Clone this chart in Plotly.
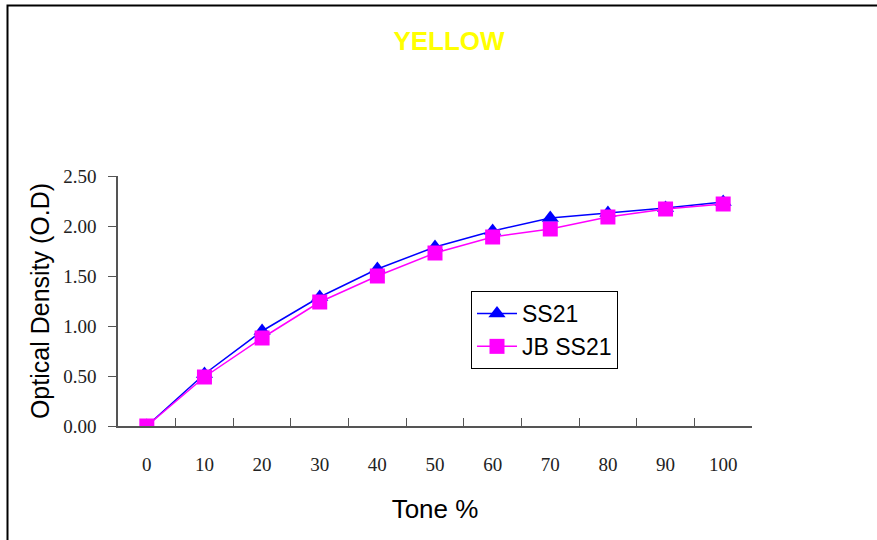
import plotly.graph_objects as go

tone = ["0", "10", "20", "30", "40", "50", "60", "70", "80", "90", "100"]
ss21 = [0.00, 0.52, 0.95, 1.29, 1.57, 1.79, 1.95, 2.08, 2.13, 2.18, 2.24]
jb_ss21 = [0.00, 0.49, 0.88, 1.24, 1.50, 1.73, 1.89, 1.97, 2.09, 2.17, 2.22]

W, H = 877, 540
L, R, T, B = 118, 752, 176, 426

fig = go.Figure()
fig.add_trace(go.Scatter(
    x=tone, y=ss21, name="SS21", mode="lines+markers",
    line=dict(color="#0000FF", width=1.5),
    marker=dict(symbol="triangle-up", size=15, color="#0000FF"),
))
fig.add_trace(go.Scatter(
    x=tone, y=jb_ss21, name="JB SS21", mode="lines+markers",
    line=dict(color="#FF00FF", width=1.5),
    marker=dict(symbol="square", size=15, color="#FF00FF"),
))

def px(xp):
    return (xp - L) / (R - L)

def py(yp):
    return (B - yp) / (B - T)

axis_col = "#555555"
fig.update_layout(
    width=W, height=H,
    margin=dict(l=L, r=W - R, t=T, b=H - B),
    paper_bgcolor="white", plot_bgcolor="white",
    showlegend=True,
    legend=dict(
        x=px(471), y=py(291), xanchor="left", yanchor="top",
        bordercolor="black", borderwidth=1, bgcolor="white",
        font=dict(family="Liberation Sans, Arial", size=23, color="black"),
        tracegroupgap=0, itemwidth=40,
    ),
    xaxis=dict(
        type="category", range=[-0.5, 10.5],
        showline=True, linecolor=axis_col, linewidth=1.5,
        ticks="inside", tickson="boundaries", ticklen=8, tickcolor=axis_col,
        showgrid=False, zeroline=False,
        tickfont=dict(family="Liberation Serif, Times New Roman", size=19, color="#222"),
        ticklabelstandoff=20,
        title=dict(text="Tone %", font=dict(family="Liberation Sans, Arial", size=26, color="black"), standoff=26),
    ),
    yaxis=dict(
        range=[0, 2.5], dtick=0.5, tickformat=".2f",
        showline=True, linecolor=axis_col, linewidth=1.5,
        ticks="outside", ticklen=8, tickcolor=axis_col,
        showgrid=False, zeroline=False,
        tickfont=dict(family="Liberation Serif, Times New Roman", size=19, color="#222"),
        ticklabelstandoff=8,
        title=dict(text="Optical Density (O.D)", font=dict(family="Liberation Sans, Arial", size=25, color="black"), standoff=6),
    ),
    title=dict(
        text="<b>YELLOW</b>", x=px(449), xref="paper", xanchor="center",
        y=1 - 41 / H, yref="container", yanchor="middle",
        font=dict(family="Liberation Sans, Arial", size=26, color="#FFFF00"),
    ),
    shapes=[
        dict(type="path", xref="paper", yref="paper",
             path=f"M {px(7.5)} {py(560)} L {px(7.5)} {py(5.5)} L {px(900)} {py(5.5)}",
             line=dict(color="black", width=2)),
    ],
)

fig.write_html(
    "out.html",
    config={"displayModeBar": False},
    post_script="document.body.style.margin='0';document.body.style.overflow='hidden';",
)
